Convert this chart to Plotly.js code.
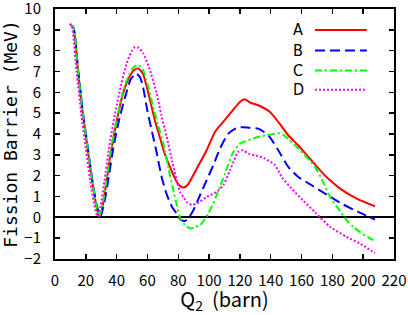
<!DOCTYPE html>
<html>
<head>
<meta charset="utf-8">
<script src="https://cdn.plot.ly/plotly-3.0.1.min.js"></script>
<style>html,body{margin:0;padding:0;background:#fff;}#chart{width:408px;height:315px;}</style>
</head>
<body>
<div id="chart"></div>
<script>
// Q2 (barn) and fission barrier (MeV) for each curve
const qA = [10, 12, 15, 18, 21, 24, 26.5, 28.5, 30.5, 33, 36, 40, 44, 48, 51, 54, 57, 61.6, 65, 68, 71, 74.6, 79, 81.3, 83.5, 86, 92, 98.4, 103.8, 108.2, 113.6, 120, 123, 127, 131.9, 139.5, 144.9, 151.4, 157.9, 165, 174, 180, 185, 195.8, 207.7];
const eA = [9.25, 9.1, 7.0, 5.0, 3.4, 1.8, 0.7, 0.05, 0.4, 1.5, 3.0, 4.6, 5.9, 6.7, 7.05, 7.15, 6.9, 5.65, 4.6, 3.86, 3.1, 2.42, 1.7, 1.5, 1.43, 1.55, 2.34, 3.22, 4.1, 4.5, 4.98, 5.54, 5.67, 5.5, 5.38, 5.06, 4.58, 3.94, 3.45, 2.85, 2.1, 1.68, 1.38, 0.9, 0.53];

const qB = [10, 12, 15, 18, 21, 24, 27, 29.5, 32, 35, 38, 42, 46, 49, 52.5, 55, 57, 60, 63, 66, 69, 72.5, 76, 79, 81.5, 84, 86.5, 89.8, 94.1, 98.4, 102.7, 107.1, 112.5, 117.9, 122, 126, 131.9, 138.4, 144.9, 151.4, 157.9, 166.6, 174, 180.6, 187, 193.6, 200, 207.7];
const eB = [9.25, 9.1, 7.1, 5.1, 3.5, 1.9, 0.6, 0.05, 0.7, 2.0, 3.4, 4.8, 5.9, 6.6, 6.9, 6.75, 6.3, 5.1, 4.1, 3.1, 2.0, 1.1, 0.5, 0.18, -0.1, -0.18, -0.05, 0.34, 1.06, 1.78, 2.5, 3.3, 4.02, 4.29, 4.33, 4.3, 4.26, 3.94, 3.22, 2.42, 1.94, 1.54, 1.2, 0.9, 0.62, 0.37, 0.15, -0.11];

const qC = [10, 12, 15, 18, 21, 24, 26.5, 28.5, 30.5, 33, 36, 40, 44, 48, 51, 54, 57, 60, 63.8, 67, 70.3, 73.5, 76.8, 79, 81.1, 84.4, 88, 91, 94.1, 99.5, 104.9, 110.3, 115.7, 120, 125.4, 131.9, 137.4, 142.8, 146, 149.3, 155.7, 162.2, 168.7, 174, 178.5, 184, 189.3, 193.6, 197.9, 203, 207.7];
const eC = [9.25, 9.1, 7.0, 5.0, 3.4, 1.8, 0.7, 0.05, 0.45, 1.6, 3.1, 4.7, 6.0, 6.85, 7.2, 7.32, 7.1, 6.4, 5.3, 4.4, 3.54, 2.4, 1.3, 0.6, 0.0, -0.38, -0.54, -0.45, -0.38, 0.18, 1.06, 2.1, 3.14, 3.54, 3.7, 3.86, 3.94, 4.02, 4.03, 3.9, 3.46, 2.98, 2.42, 1.7, 0.98, 0.4, -0.14, -0.45, -0.7, -0.95, -1.14];

const qD = [9.5, 11, 14, 17, 20, 23, 25.5, 27.5, 29.5, 32, 35, 39, 43, 47, 50, 52, 54, 57.3, 61, 66, 69, 72.5, 76, 79, 81.1, 83.3, 86, 88.7, 92, 98.4, 104.9, 109.2, 113.6, 118.9, 122.2, 125.4, 129.8, 136.3, 142.8, 147.1, 153.6, 161.1, 168.7, 178.5, 189.3, 197.9, 207.7];
const eD = [9.3, 9.15, 7.0, 5.0, 3.3, 1.7, 0.6, 0.05, 0.5, 1.7, 3.3, 5.0, 6.4, 7.5, 8.0, 8.18, 8.15, 7.87, 7.2, 5.95, 4.9, 3.86, 2.7, 1.78, 1.22, 0.98, 0.7, 0.6, 0.66, 0.98, 1.22, 1.54, 2.26, 3.14, 3.22, 3.06, 2.98, 2.82, 2.5, 1.94, 1.38, 0.8, 0.25, -0.46, -0.94, -1.26, -1.72];

const names = ['A', 'B', 'C', 'D'];
const colors = ['#ff0000', '#0000ff', '#00ff00', '#ff00ff'];
const dashes = ['solid', '10px,5px', '7px,3px,2px,3px', '2px,2px'];
const xs = [qA, qB, qC, qD];
const ys = [eA, eB, eC, eD];

const traces = names.map((n, i) => ({
  x: xs[i], y: ys[i], name: n, type: 'scatter', mode: 'lines',
  line: {color: colors[i], width: 2, dash: dashes[i], shape: 'spline', smoothing: 0.6},
  showlegend: false
}));

// custom legend: label on the left, line sample on the right
const legRows = [0.916, 0.834, 0.754, 0.677];
const shapes = [];
const annotations = [];
names.forEach((n, i) => {
  shapes.push({type: 'line', xref: 'paper', yref: 'paper', x0: 0.767, x1: 0.92, y0: legRows[i], y1: legRows[i],
    line: {color: colors[i], width: 2, dash: dashes[i]}});
  annotations.push({xref: 'paper', yref: 'paper', x: 0.717, y: legRows[i], text: n, showarrow: false,
    xanchor: 'center', yanchor: 'middle', font: {family: 'Liberation Sans Narrow, DejaVu Sans Condensed, sans-serif', size: 16, color: '#000'}});
});

const tickFont = {family: 'Noto Sans CJK JP, sans-serif', size: 15, color: '#000'};
const layout = {
  width: 408, height: 315,
  margin: {l: 55, r: 14, t: 9, b: 56.4, pad: 0},
  paper_bgcolor: '#fff', plot_bgcolor: '#fff',
  showlegend: false,
  xaxis: {
    range: [0, 220.001], tick0: 0, dtick: 20, ticks: 'inside', ticklen: 5, tickwidth: 1.5, tickcolor: '#000',
    showline: true, linewidth: 2, linecolor: '#000', mirror: 'allticks', showgrid: false, zeroline: false,
    tickfont: tickFont, ticklabelstandoff: 7, ticklabeloverflow: 'allow',
    title: {text: 'Q<sub>2</sub>\u00a0\u00a0(barn)', font: {family: 'Noto Sans CJK JP, sans-serif', size: 20, color: '#000'}, standoff: 8}
  },
  yaxis: {
    range: [-2, 10.001], tick0: -2, dtick: 1, ticks: 'inside', ticklen: 5, tickwidth: 1.5, tickcolor: '#000',
    showline: true, linewidth: 2, linecolor: '#000', mirror: 'allticks', showgrid: false,
    zeroline: true, zerolinecolor: '#000', zerolinewidth: 2,
    tickfont: tickFont, ticklabelstandoff: 9, ticklabeloverflow: 'allow',
    title: {text: 'Fission Barrier (MeV)', font: {family: 'DejaVu Sans Mono, monospace', size: 18, color: '#000'}, standoff: 6}
  },
  shapes: shapes,
  annotations: annotations
};

Plotly.newPlot('chart', traces, layout, {staticPlot: true, displayModeBar: false});
</script>
</body>
</html>
